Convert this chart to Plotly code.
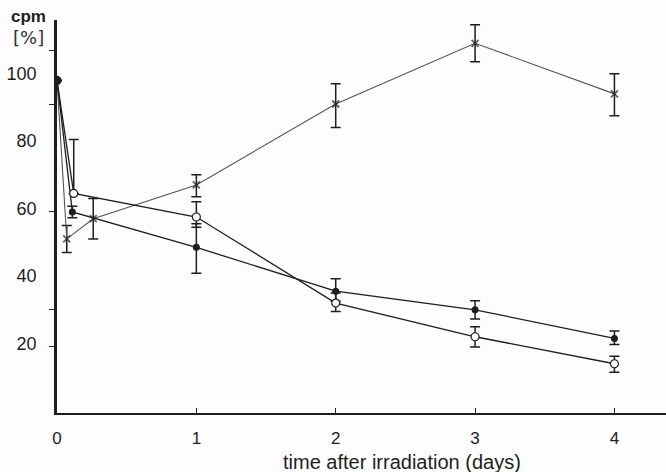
import plotly.graph_objects as go

# ---- data ----
cross_x = [0, 0.07, 0.26, 1, 2, 3, 4]
cross_y = [98, 51, 57, 67, 91, 109, 94]
cross_plus = [0, 4, 6, 3, 6, 5.5, 6]
cross_minus = [0, 4, 6, 3.5, 7, 5.5, 6.5]

filled_x = [0, 0.11, 1, 2, 3, 4]
filled_y = [98, 59, 48.5, 35.5, 30, 21.5]
filled_plus = [0, 1.7, 7, 3.7, 2.7, 2.2]
filled_minus = [0, 1.7, 7.7, 3, 2.7, 1.8]

open_x = [0, 0.12, 1, 2, 3, 4]
open_y = [98, 64.5, 57.5, 32, 22, 14]
open_plus = [0, 16, 4.5, 3, 3, 2.2]
open_minus = [0, 0, 3, 2.5, 3, 2.5]

x_ticks = [0, 1, 2, 3, 4]
y_ticks = [20, 40, 60, 80, 100]
y_marks = [107, 91, 59, 30, 19]

ink = "#1e1e1e"
font = "Liberation Sans, Arial, sans-serif"

fig = go.Figure()

fig.add_trace(go.Scatter(
    x=cross_x, y=cross_y, mode="lines+markers",
    line=dict(color="#555555", width=1.1),
    marker=dict(symbol="x-thin-open", size=[0] + [7] * (len(cross_x) - 1),
                line=dict(color=ink, width=1.8), color=ink),
    error_y=dict(type="data", symmetric=False, array=cross_plus, arrayminus=cross_minus,
                 color=ink, thickness=1.5, width=5),
    showlegend=False))

fig.add_trace(go.Scatter(
    x=filled_x, y=filled_y, mode="lines+markers",
    line=dict(color=ink, width=1.3),
    marker=dict(symbol="circle", size=7, color=ink),
    error_y=dict(type="data", symmetric=False, array=filled_plus, arrayminus=filled_minus,
                 color=ink, thickness=1.5, width=5),
    showlegend=False))

fig.add_trace(go.Scatter(
    x=open_x, y=open_y, mode="lines+markers",
    line=dict(color=ink, width=1.3),
    marker=dict(symbol="circle", size=8,
                color=[ink] + ["#ffffff"] * (len(open_x) - 1),
                line=dict(color=ink, width=1.2)),
    error_y=dict(type="data", symmetric=False, array=open_plus, arrayminus=open_minus,
                 color=ink, thickness=1.5, width=5),
    showlegend=False))

fig.update_xaxes(
    range=[0, 4.37], showline=True, linecolor=ink, linewidth=2,
    tickmode="array", tickvals=x_ticks, ticktext=[str(v) for v in x_ticks],
    ticks="inside", ticklen=5, tickwidth=1.2, tickcolor=ink,
    showgrid=False, zeroline=False,
    tickfont=dict(family=font, size=17, color=ink), ticklabelstandoff=9)

fig.update_yaxes(
    range=[-0.6, 115.9], showline=True, linecolor=ink, linewidth=2.5,
    tickmode="array", tickvals=y_ticks, ticktext=[str(v) for v in y_ticks],
    ticks="", showgrid=False, zeroline=False,
    minor=dict(tickmode="array", tickvals=y_marks, ticks="outside", ticklen=5,
               tickwidth=1.3, tickcolor=ink, showgrid=False),
    tickfont=dict(family=font, size=18, color=ink), ticklabelstandoff=14)

fig.add_annotation(text="<b>cpm</b>", xref="paper", yref="paper", x=-0.047, y=1.01,
                   showarrow=False, font=dict(family=font, size=17, color=ink),
                   xanchor="center", yanchor="middle")
fig.add_annotation(text="[%]", xref="paper", yref="paper", x=-0.047, y=0.955,
                   showarrow=False, font=dict(family="DejaVu Sans, sans-serif", size=18, color="#333"),
                   xanchor="center", yanchor="middle")
fig.add_annotation(text="time after irradiation (days)", xref="paper", yref="paper",
                   x=0.567, y=-0.125, showarrow=False,
                   font=dict(family=font, size=20, color=ink),
                   xanchor="center", yanchor="middle")

fig.update_layout(
    width=666, height=472,
    margin=dict(l=57, r=0, t=20, b=59),
    paper_bgcolor="#fdfdfd", plot_bgcolor="#fdfdfd",
)

fig.write_html("out.html")
